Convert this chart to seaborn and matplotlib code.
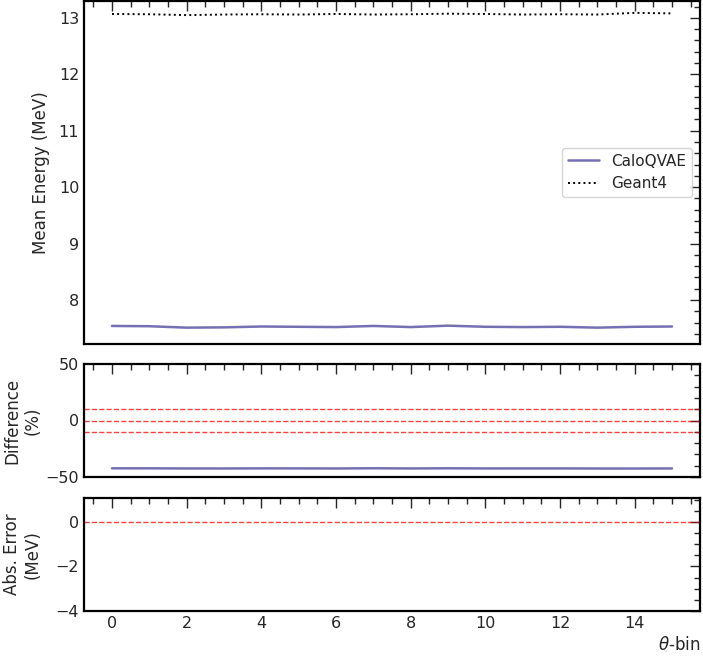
import numpy as np
import pandas as pd
import matplotlib
matplotlib.use("Agg")
import matplotlib.pyplot as plt
import seaborn as sns
from matplotlib.ticker import AutoMinorLocator, MultipleLocator

theta_bins = list(range(16))
caloqvae = [7.54, 7.535, 7.51, 7.515, 7.53, 7.525, 7.52, 7.54, 7.52, 7.545,
            7.525, 7.52, 7.525, 7.51, 7.525, 7.53]
geant4 = [13.07, 13.065, 13.05, 13.06, 13.065, 13.06, 13.07, 13.06, 13.065, 13.075,
          13.07, 13.06, 13.065, 13.06, 13.09, 13.08]

calo = np.array(caloqvae)
g4 = np.array(geant4)
df = pd.DataFrame({"theta": theta_bins, "CaloQVAE": calo, "Geant4": g4,
                   "diff": (calo - g4) / g4 * 100, "abs": calo - g4})

sns.set_style("white")
plt.rcParams["font.family"] = ["DejaVu Sans"]

fig = plt.figure(figsize=(7.03, 6.57), dpi=100)
W, H = 703, 657
def pos(x0, y0, x1, y1):
    return [x0 / W, 1 - y1 / H, (x1 - x0) / W, (y1 - y0) / H]

ax1 = fig.add_axes(pos(84, 1, 700, 344))
ax2 = fig.add_axes(pos(84, 364, 700, 477), sharex=ax1)
ax3 = fig.add_axes(pos(84, 498, 700, 611), sharex=ax1)

purple = "#7570b3"
sns.lineplot(data=df, x="theta", y="CaloQVAE", ax=ax1, color=purple, lw=1.8, label="CaloQVAE")
sns.lineplot(data=df, x="theta", y="Geant4", ax=ax1, color="black", lw=1.4, ls=":", label="Geant4")
ax1.set_ylim(7.22, 13.3)
ax1.set_ylabel("Mean Energy (MeV)", fontsize=12)
ax1.set_xlabel("")
leg = ax1.legend(loc="center right", fontsize=11, frameon=True, fancybox=True)
leg.get_frame().set_edgecolor("#cccccc")

sns.lineplot(data=df, x="theta", y="diff", ax=ax2, color=purple, lw=1.8)
for v in (10, 0, -10):
    ax2.axhline(v, color="red", ls="--", lw=1.0, alpha=0.75)
ax2.set_ylim(-50, 50)
ax2.set_ylabel("Difference\n(%)", fontsize=12)
ax2.set_xlabel("")

sns.lineplot(data=df, x="theta", y="abs", ax=ax3, color=purple, lw=1.8)
ax3.axhline(0, color="red", ls="--", lw=1.0, alpha=0.75)
ax3.set_ylim(-4, 1.07)
ax3.yaxis.set_major_locator(MultipleLocator(2))
ax3.set_ylabel("Abs. Error\n(MeV)", fontsize=12)
ax3.set_xlabel(r"$\theta$-bin", fontsize=12, loc="right")

ax1.set_xlim(-0.75, 15.75)
ax1.xaxis.set_major_locator(MultipleLocator(2))

for ax in (ax1, ax2, ax3):
    ax.xaxis.set_minor_locator(AutoMinorLocator())
    ax.yaxis.set_minor_locator(AutoMinorLocator())
    ax.tick_params(which="both", direction="in", top=True, right=True, labelsize=11.5)
    ax.tick_params(which="major", length=7, width=1)
    ax.tick_params(which="minor", length=4, width=1)
    for s in ax.spines.values():
        s.set_linewidth(1.6)
        s.set_color("black")
for ax in (ax1, ax2):
    ax.tick_params(labelbottom=False)
ax1.yaxis.set_label_coords(-0.055, 0.5)
ax2.yaxis.set_label_coords(-0.068, 0.5)
ax3.yaxis.set_label_coords(-0.068, 0.5)

fig.savefig("out.png", dpi=100)
